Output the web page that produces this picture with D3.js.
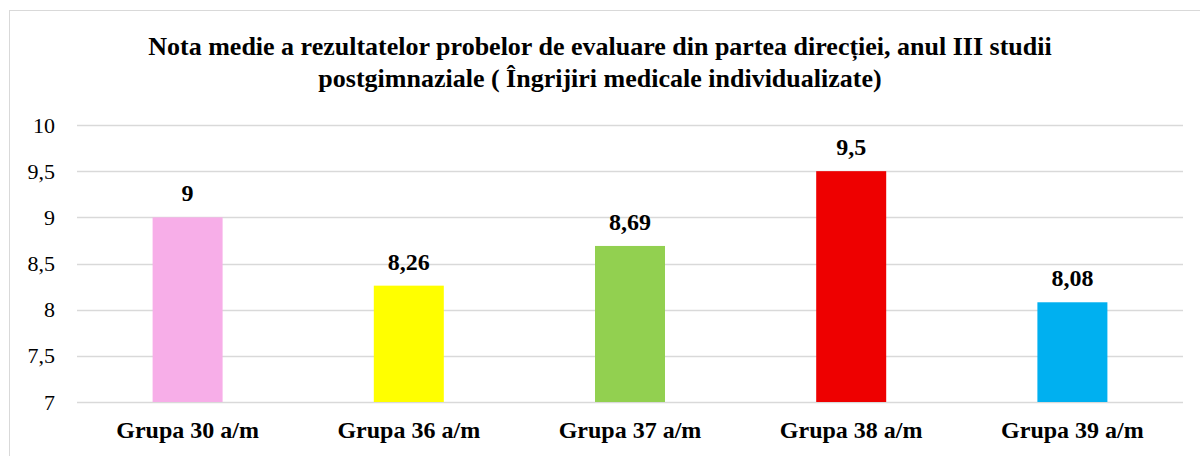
<!DOCTYPE html>
<html><head><meta charset="utf-8">
<script src="https://cdn.jsdelivr.net/npm/d3@7"></script>
<style>body{margin:0;background:#fff}svg{display:block}svg text{font-family:"Liberation Serif","Times New Roman",serif}</style>
</head><body>
<script>
const categories = ["Grupa 30 a/m","Grupa 36 a/m","Grupa 37 a/m","Grupa 38 a/m","Grupa 39 a/m"];
const values = [9, 8.26, 8.69, 9.5, 8.08];
const valueLabels = ["9","8,26","8,69","9,5","8,08"];
const colors = ["#f7aee8","#ffff00","#92d050","#ee0000","#00b0f0"];
const ticks = [7,7.5,8,8.5,9,9.5,10];
const titleLines = ["Nota medie a rezultatelor probelor de evaluare din partea direcției, anul III studii","postgimnaziale ( Îngrijiri medicale individualizate)"];

const W=1200,H=456;
const svg=d3.select("body").append("svg").attr("width",W).attr("height",H);
const font='"Liberation Serif","Times New Roman",serif';
svg.append("rect").attr("x",9.5).attr("y",10.5).attr("width",1210).attr("height",470).attr("fill","#fff").attr("stroke","#d9d9d9");

const x=d3.scaleBand().domain(categories).range([77,1183]).paddingInner(0).paddingOuter(0);
const y=d3.scaleLinear().domain([7,10]).range([402,125]);

svg.append("g").selectAll("line").data(ticks).join("line")
 .attr("x1",77).attr("x2",1183).attr("y1",d=>Math.round(y(d))+0.5).attr("y2",d=>Math.round(y(d))+0.5)
 .attr("stroke","#d9d9d9").attr("stroke-width",1.5);

const fmt=d=>String(d).replace(".",",");
const yAxis=d3.axisLeft(y).tickValues(ticks).tickFormat(fmt).tickSize(0).tickPadding(0);
const ga=svg.append("g").attr("transform","translate(55,0)").call(yAxis);
ga.attr("font-family",null).attr("font-size",null);
ga.select(".domain").remove();
ga.selectAll("text").style("font-family",font).style("font-size","22px").attr("fill","#000");

const bw=70;
svg.append("g").selectAll("rect").data(values).join("rect")
 .attr("x",(d,i)=>x(categories[i])+x.bandwidth()/2-bw/2)
 .attr("width",bw)
 .attr("y",d=>y(d)).attr("height",d=>y(7)-y(d))
 .attr("fill",(d,i)=>colors[i]);

svg.append("g").selectAll("text").data(values).join("text")
 .attr("x",(d,i)=>x(categories[i])+x.bandwidth()/2)
 .attr("y",d=>y(d)-16)
 .attr("text-anchor","middle").style("font-family",font).style("font-weight","bold").style("font-size","24px")
 .text((d,i)=>valueLabels[i]);

const xAxis=d3.axisBottom(x).tickSize(0).tickPadding(0);
const gx=svg.append("g").attr("transform","translate(0,402)").call(xAxis);
gx.attr("font-family",null).attr("font-size",null);
gx.select(".domain").remove();
gx.selectAll("text").attr("dy",0).attr("y",36).style("font-family",font).style("font-weight","bold").style("font-size","24px").attr("fill","#000");

svg.append("g").selectAll("text").data(titleLines).join("text")
 .attr("x",600).attr("y",(d,i)=>55+i*32)
 .attr("text-anchor","middle").style("font-family",font).style("font-weight","bold").style("font-size","26px")
 .text(d=>d);
</script>
</body></html>
